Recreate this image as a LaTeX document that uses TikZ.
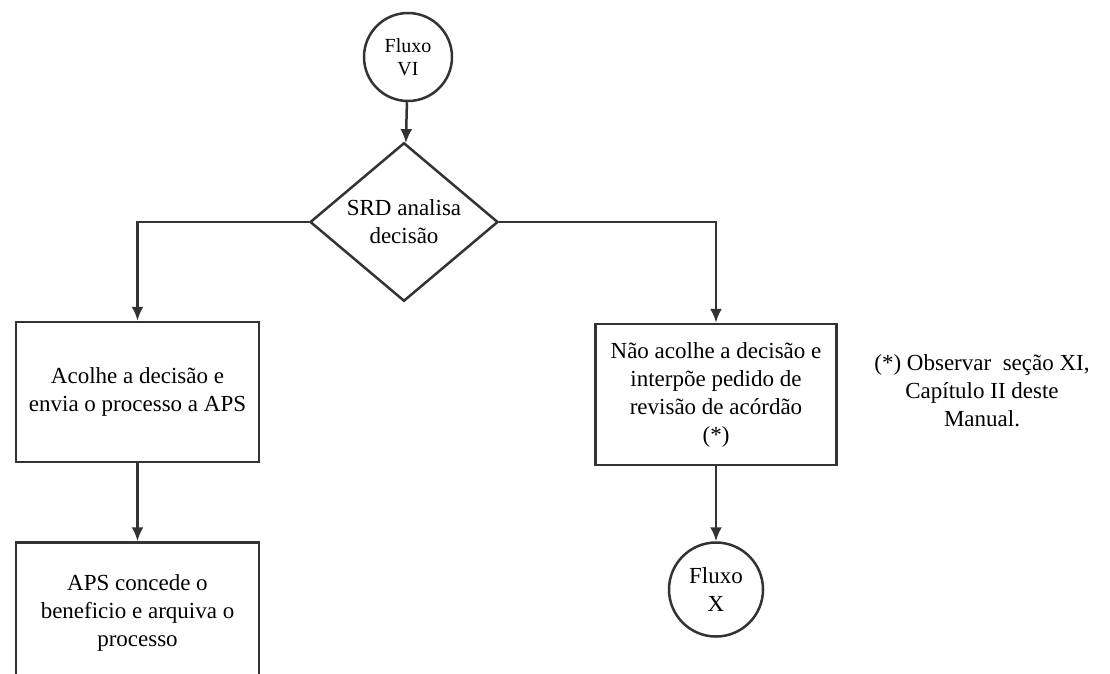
\documentclass[tikz,border=0pt]{standalone}
\usepackage{fontspec}
\setmainfont{Liberation Serif}
\usetikzlibrary{arrows.meta,shapes.geometric,positioning}

\begin{document}
\begin{tikzpicture}[x=1pt,y=-1pt,->,>={Latex[length=14pt,width=12pt]},line width=2.5pt,
    draw=black!80,font=\fontsize{23}{28}\selectfont,
    flow node/.style={circle,draw,align=center,inner sep=0pt},
    task node/.style={rectangle,draw,align=center,minimum width=243pt,minimum height=140pt},
    test node/.style={diamond,draw,align=center,inner sep=0pt,minimum width=188pt,minimum height=136pt}]

  \useasboundingbox[fill=white] (0,0) rectangle (1110,673);

  \node[flow node,minimum size=88pt,font=\fontsize{20}{23}\selectfont] (VI) at (408,57) {Fluxo\\VI};
  \node[test node] (srd) at (404,222) {SRD analisa\\decisão};
  \node[task node] (acolhe) at (137.5,392) {Acolhe a decisão e\\envia o processo a APS};
  \node[task node] (aps) [below=78pt of acolhe] {APS concede o\\beneficio e arquiva o\\processo};
  \node[task node,minimum width=241pt,minimum height=141pt] (nao) at (716,394.5) {Não acolhe a decisão e\\interpõe pedido de\\revisão de acórdão\\(*)};
  \node[flow node,minimum size=94pt] (X) [below=75pt of nao] {Fluxo\\X};
  \node[align=center] (nota) at (982,391) {(*) Observar\ \ seção XI,\\Capítulo II deste\\Manual.};

  \path (VI) edge (srd)
        (acolhe) edge (aps)
        (nao) edge (X);
  \draw (srd.west) -| (acolhe.north);
  \draw (srd.east) -| (nao.north);

\end{tikzpicture}
\end{document}
